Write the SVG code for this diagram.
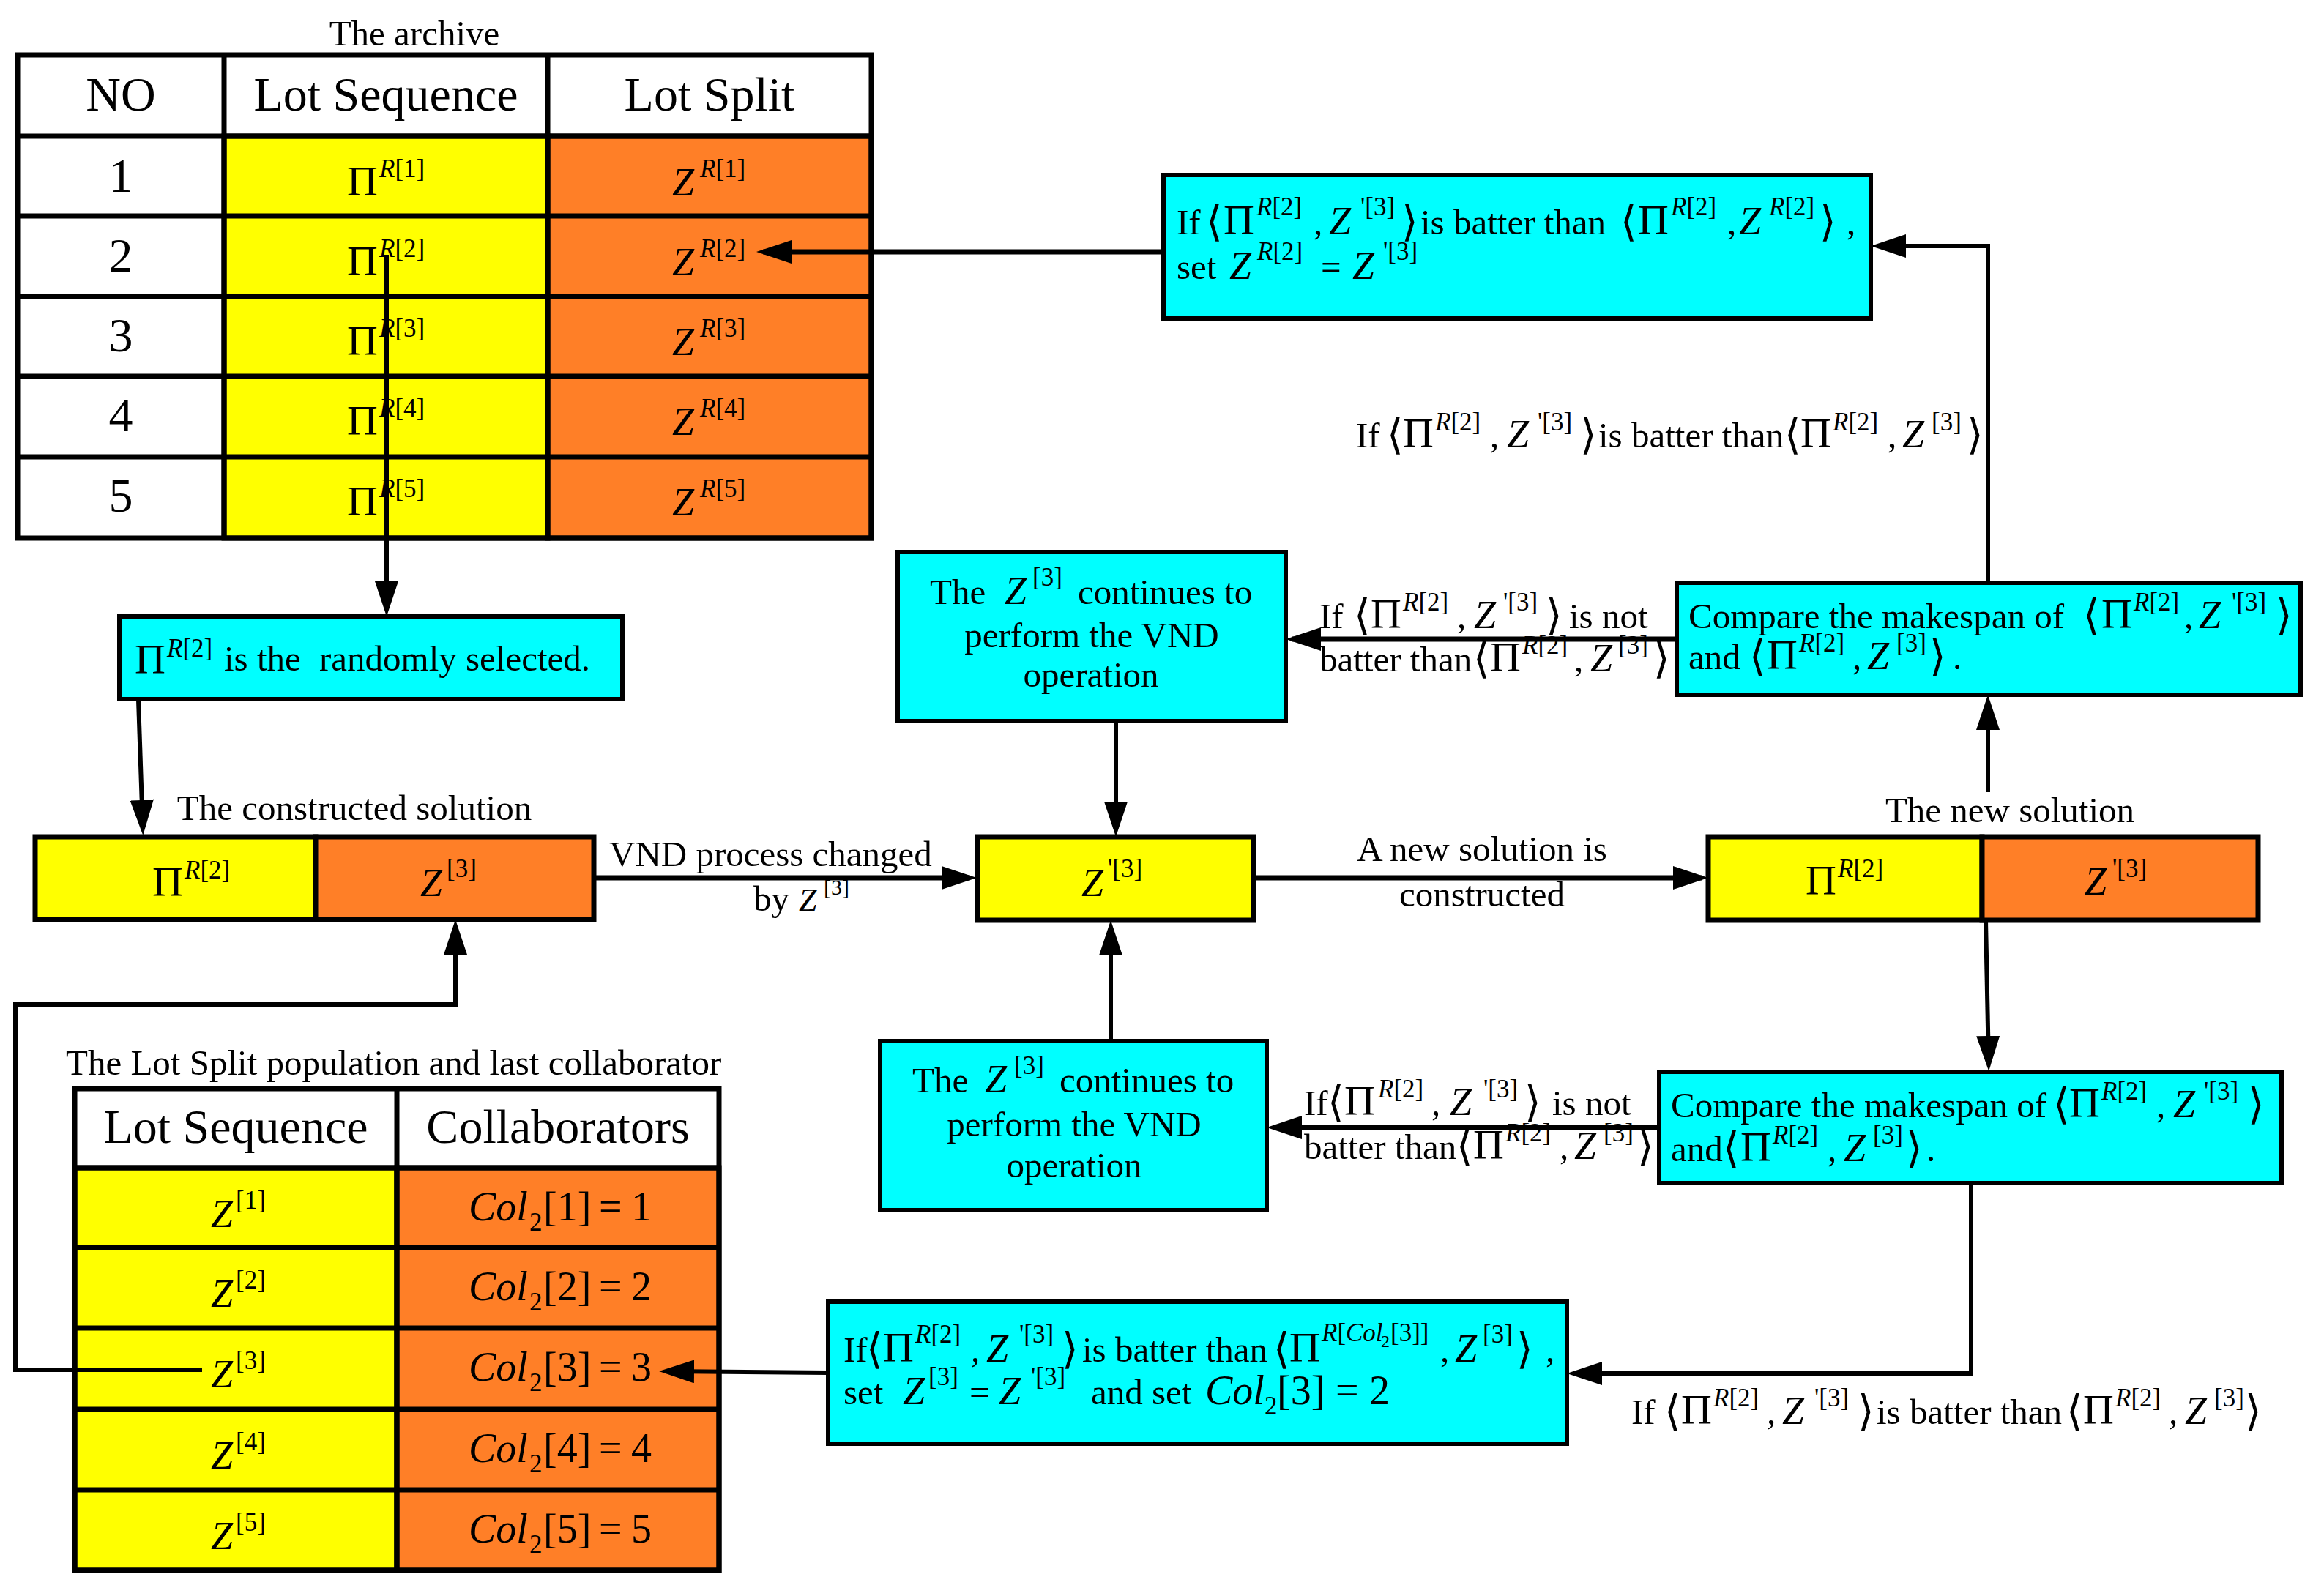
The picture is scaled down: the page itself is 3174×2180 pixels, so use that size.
<svg xmlns="http://www.w3.org/2000/svg" width="3174" height="2180" viewBox="0 0 3174 2180">
<style>
text { font-family: 'Liberation Serif','DejaVu Serif',serif; fill:#000; }
.t { font-size:49px; }
.h { font-size:66px; }
.c { text-anchor:middle; }
.i { font-style:italic; }
.s { font-size:35px; }
.ss { font-size:24px; }
.p { font-size:58px; }
.z { font-size:54px; font-style:italic; }
.b { font-family:'DejaVu Sans','DejaVu Serif',sans-serif; font-size:58px; }
.cz { font-size:56px; }
.ln { stroke:#000; stroke-width:6; fill:none; }
.lh { stroke-width:7; }
.box { fill:#00ffff; stroke:#000; stroke-width:6; }
.yl { fill:#ffff00; stroke:#000; stroke-width:7; }
.or { fill:#ff7f27; stroke:#000; stroke-width:7; }
.wh { fill:#ffffff; }
.grid { stroke:#000; stroke-width:7; fill:none; }
</style>
<defs>
<marker id="ah" markerUnits="userSpaceOnUse" markerWidth="48" markerHeight="32" refX="39" refY="16" orient="auto">
<path d="M0,0 L48,16 L0,32 Z" fill="#000"/>
</marker>
</defs>
<rect width="3174" height="2180" fill="#fff"/>

<!-- Archive table -->
<g id="archive">
<text class="t c" x="566" y="62">The archive</text>
<rect class="wh" x="24" y="75" width="282" height="660"/>
<rect class="wh" x="306" y="75" width="884" height="111"/>
<rect class="yl" x="306" y="186" width="442" height="549" stroke="none"/>
<rect class="or" x="748" y="186" width="442" height="549" stroke="none"/>
<path class="grid" d="M24,75 H1190 V735 H24 Z M24,186 H1190 M24,295 H1190 M24,405 H1190 M24,514 H1190 M24,624 H1190 M306,75 V735 M748,75 V735"/>
<text class="h c" x="165" y="151">NO</text>
<text class="h c" x="527" y="151">Lot Sequence</text>
<text class="h c" x="969" y="151">Lot Split</text>
<text class="h c" x="165" y="262">1</text>
<text class="h c" x="165" y="371">2</text>
<text class="h c" x="165" y="480">3</text>
<text class="h c" x="165" y="589">4</text>
<text class="h c" x="165" y="699">5</text>
<text class="t"><tspan class="p" x="474" y="267">Π</tspan><tspan class="s" x="518" y="242"><tspan class="i">R</tspan>[1]</tspan></text>
<text class="t"><tspan class="p" x="474" y="376">Π</tspan><tspan class="s" x="518" y="351"><tspan class="i">R</tspan>[2]</tspan></text>
<text class="t"><tspan class="p" x="474" y="485">Π</tspan><tspan class="s" x="518" y="460"><tspan class="i">R</tspan>[3]</tspan></text>
<text class="t"><tspan class="p" x="474" y="594">Π</tspan><tspan class="s" x="518" y="569"><tspan class="i">R</tspan>[4]</tspan></text>
<text class="t"><tspan class="p" x="474" y="704">Π</tspan><tspan class="s" x="518" y="679"><tspan class="i">R</tspan>[5]</tspan></text>
<text class="t"><tspan class="z" x="918" y="267">Z</tspan><tspan class="s" x="956" y="242"><tspan class="i">R</tspan>[1]</tspan></text>
<text class="t"><tspan class="z" x="918" y="376">Z</tspan><tspan class="s" x="956" y="351"><tspan class="i">R</tspan>[2]</tspan></text>
<text class="t"><tspan class="z" x="918" y="485">Z</tspan><tspan class="s" x="956" y="460"><tspan class="i">R</tspan>[3]</tspan></text>
<text class="t"><tspan class="z" x="918" y="594">Z</tspan><tspan class="s" x="956" y="569"><tspan class="i">R</tspan>[4]</tspan></text>
<text class="t"><tspan class="z" x="918" y="704">Z</tspan><tspan class="s" x="956" y="679"><tspan class="i">R</tspan>[5]</tspan></text>
</g>

<!-- Randomly selected box -->
<g id="selected">
<rect class="box" x="163" y="842" width="687" height="113"/>
<text class="t"><tspan class="p" x="184" y="920">Π</tspan><tspan class="s" x="228" y="897"><tspan class="i">R</tspan>[2]</tspan><tspan x="306" y="916">is the</tspan><tspan x="436" y="916">randomly selected.</tspan></text>
</g>

<!-- Constructed solution -->
<g id="constructed">
<text class="t c" x="484" y="1120">The constructed solution</text>
<rect class="yl" x="48" y="1143" width="383" height="113"/>
<rect class="or" x="431" y="1143" width="380" height="113"/>
<text class="t"><tspan class="p" x="208" y="1224">Π</tspan><tspan class="s" x="252" y="1200"><tspan class="i">R</tspan>[2]</tspan></text>
<text class="t"><tspan class="z" x="574" y="1224">Z</tspan><tspan class="s" x="610" y="1198">[3]</tspan></text>
</g>

<!-- VND box 1 -->
<g id="vnd1">
<rect class="box" x="1226" y="754" width="530" height="231"/>
<text class="t"><tspan x="1270" y="825">The</tspan><tspan class="z" x="1372" y="825">Z</tspan><tspan class="s" x="1410" y="800">[3]</tspan><tspan x="1472" y="825">continues to</tspan></text>
<text class="t c" x="1491" y="884">perform the VND</text>
<text class="t c" x="1490" y="938">operation</text>
</g>

<!-- Z' box -->
<g id="zprime">
<rect class="yl" x="1335" y="1143" width="377" height="114"/>
<text class="t"><tspan class="z" x="1477" y="1224">Z</tspan><tspan class="s" x="1513" y="1198">'[3]</tspan></text>
</g>

<!-- New solution -->
<g id="newsolution">
<text class="t c" x="2745" y="1123">The new solution</text>
<rect class="yl" x="2333" y="1143" width="374" height="114"/>
<rect class="or" x="2707" y="1143" width="377" height="114"/>
<text class="t"><tspan class="p" x="2466" y="1222">Π</tspan><tspan class="s" x="2510" y="1198"><tspan class="i">R</tspan>[2]</tspan></text>
<text class="t"><tspan class="z" x="2847" y="1222">Z</tspan><tspan class="s" x="2885" y="1198">'[3]</tspan></text>
</g>

<!-- Top set box -->
<g id="topset">
<rect class="box" x="1589" y="239" width="966" height="196"/>
<text class="t"><tspan x="1607" y="320">If</tspan><tspan class="b" x="1647" y="322">⟨</tspan><tspan class="p" x="1671" y="320">Π</tspan><tspan class="s" x="1716" y="294"><tspan class="i">R</tspan>[2]</tspan><tspan x="1794" y="320">,</tspan><tspan class="z" x="1815" y="320">Z</tspan><tspan class="s" x="1858" y="294">'[3]</tspan><tspan class="b" x="1914" y="322">⟩</tspan><tspan x="1940" y="320">is batter than</tspan><tspan class="b" x="2213" y="322">⟨</tspan><tspan class="p" x="2237" y="320">Π</tspan><tspan class="s" x="2282" y="294"><tspan class="i">R</tspan>[2]</tspan><tspan x="2359" y="320">,</tspan><tspan class="z" x="2375" y="320">Z</tspan><tspan class="s" x="2416" y="294"><tspan class="i">R</tspan>[2]</tspan><tspan class="b" x="2485" y="322">⟩</tspan><tspan x="2522" y="320">,</tspan></text>
<text class="t"><tspan x="1607" y="381">set</tspan><tspan class="z" x="1679" y="381">Z</tspan><tspan class="s" x="1717" y="355"><tspan class="i">R</tspan>[2]</tspan><tspan x="1804" y="381">=</tspan><tspan class="z" x="1847" y="381">Z</tspan><tspan class="s" x="1889" y="355">'[3]</tspan></text>
</g>

<!-- Top compare box -->
<g id="compare1">
<rect class="box" x="2290" y="796" width="852" height="153"/>
<text class="t"><tspan x="2306" y="858">Compare the makespan of</tspan><tspan class="b" x="2845" y="860">⟨</tspan><tspan class="p" x="2870" y="858">Π</tspan><tspan class="s" x="2914" y="834"><tspan class="i">R</tspan>[2]</tspan><tspan x="2983" y="858">,</tspan><tspan class="z" x="3003" y="858">Z</tspan><tspan class="s" x="3048" y="834">'[3]</tspan><tspan class="b" x="3108" y="860">⟩</tspan></text>
<text class="t"><tspan x="2306" y="914">and</tspan><tspan class="b" x="2389" y="916">⟨</tspan><tspan class="p" x="2413" y="914">Π</tspan><tspan class="s" x="2457" y="890"><tspan class="i">R</tspan>[2]</tspan><tspan x="2530" y="914">,</tspan><tspan class="z" x="2550" y="914">Z</tspan><tspan class="s" x="2590" y="890">[3]</tspan><tspan class="b" x="2635" y="916">⟩</tspan><tspan x="2667" y="914">.</tspan></text>
</g>

<!-- Bottom compare box -->
<g id="compare2">
<rect class="box" x="2266" y="1464" width="850" height="152"/>
<text class="t"><tspan x="2282" y="1526">Compare the makespan of</tspan><tspan class="b" x="2804" y="1528">⟨</tspan><tspan class="p" x="2826" y="1526">Π</tspan><tspan class="s" x="2870" y="1502"><tspan class="i">R</tspan>[2]</tspan><tspan x="2945" y="1526">,</tspan><tspan class="z" x="2968" y="1526">Z</tspan><tspan class="s" x="3010" y="1502">'[3]</tspan><tspan class="b" x="3070" y="1528">⟩</tspan></text>
<text class="t"><tspan x="2282" y="1586">and</tspan><tspan class="b" x="2353" y="1588">⟨</tspan><tspan class="p" x="2377" y="1586">Π</tspan><tspan class="s" x="2421" y="1562"><tspan class="i">R</tspan>[2]</tspan><tspan x="2496" y="1586">,</tspan><tspan class="z" x="2518" y="1586">Z</tspan><tspan class="s" x="2558" y="1562">[3]</tspan><tspan class="b" x="2603" y="1588">⟩</tspan><tspan x="2631" y="1586">.</tspan></text>
</g>

<!-- VND box 2 -->
<g id="vnd2">
<rect class="box" x="1202" y="1422" width="528" height="231"/>
<text class="t"><tspan x="1246" y="1492">The</tspan><tspan class="z" x="1345" y="1492">Z</tspan><tspan class="s" x="1385" y="1467">[3]</tspan><tspan x="1447" y="1492">continues to</tspan></text>
<text class="t c" x="1467" y="1552">perform the VND</text>
<text class="t c" x="1467" y="1608">operation</text>
</g>

<!-- Bottom set box -->
<g id="bottomset">
<rect class="box" x="1131" y="1778" width="1009" height="194"/>
<text class="t"><tspan x="1152" y="1860">If</tspan><tspan class="b" x="1183" y="1862">⟨</tspan><tspan class="p" x="1206" y="1860">Π</tspan><tspan class="s" x="1250" y="1834"><tspan class="i">R</tspan>[2]</tspan><tspan x="1326" y="1860">,</tspan><tspan class="z" x="1347" y="1860">Z</tspan><tspan class="s" x="1392" y="1834">'[3]</tspan><tspan class="b" x="1450" y="1862">⟩</tspan><tspan x="1478" y="1860">is batter than</tspan><tspan class="b" x="1739" y="1862">⟨</tspan><tspan class="p" x="1761" y="1860">Π</tspan><tspan class="s" x="1805" y="1832"><tspan class="i">R</tspan>[</tspan><tspan class="s i" x="1838" y="1832">Col</tspan><tspan class="ss" x="1886" y="1840">2</tspan><tspan class="s" x="1899" y="1832">[3]]</tspan><tspan x="1967" y="1860">,</tspan><tspan class="z" x="1987" y="1860">Z</tspan><tspan class="s" x="2025" y="1834">[3]</tspan><tspan class="b" x="2071" y="1862">⟩</tspan><tspan x="2111" y="1860">,</tspan></text>
<text class="t"><tspan x="1152" y="1918">set</tspan><tspan class="z" x="1233" y="1918">Z</tspan><tspan class="s" x="1268" y="1892">[3]</tspan><tspan x="1324" y="1918">=</tspan><tspan class="z" x="1364" y="1918">Z</tspan><tspan class="s" x="1408" y="1892">'[3]</tspan><tspan x="1490" y="1918">and set</tspan><tspan class="cz i" x="1646" y="1918">Col</tspan><tspan class="s" x="1727" y="1932">2</tspan><tspan class="cz" x="1744" y="1918">[3]</tspan><tspan class="cz" x="1824" y="1918">=</tspan><tspan class="cz" x="1870" y="1918">2</tspan></text>
</g>

<!-- Lot split population table -->
<g id="population">
<text class="t" x="90" y="1468">The Lot Split population and last collaborator</text>
<rect class="wh" x="102" y="1487" width="880" height="108"/>
<rect class="yl" x="102" y="1595" width="440" height="550" stroke="none"/>
<rect class="or" x="542" y="1595" width="440" height="550" stroke="none"/>
<path class="grid" d="M102,1487 H982 V2145 H102 Z M102,1595 H982 M102,1704 H982 M102,1814 H982 M102,1925 H982 M102,2035 H982 M542,1487 V2145"/>
<text class="h c" x="322" y="1561">Lot Sequence</text>
<text class="h c" x="762" y="1561">Collaborators</text>
<text class="t"><tspan class="z" x="288" y="1676">Z</tspan><tspan class="s" x="322" y="1651">[1]</tspan></text>
<text class="t"><tspan class="z" x="288" y="1785">Z</tspan><tspan class="s" x="322" y="1760">[2]</tspan></text>
<text class="t"><tspan class="z" x="288" y="1895">Z</tspan><tspan class="s" x="322" y="1870">[3]</tspan></text>
<text class="t"><tspan class="z" x="288" y="2006">Z</tspan><tspan class="s" x="322" y="1981">[4]</tspan></text>
<text class="t"><tspan class="z" x="288" y="2116">Z</tspan><tspan class="s" x="322" y="2091">[5]</tspan></text>
<text class="t"><tspan class="cz i" x="640" y="1667">Col</tspan><tspan class="s" x="723" y="1681">2</tspan><tspan class="cz" x="742" y="1667">[1]</tspan><tspan class="cz" x="818" y="1667">=</tspan><tspan class="cz" x="862" y="1667">1</tspan></text>
<text class="t"><tspan class="cz i" x="640" y="1776">Col</tspan><tspan class="s" x="723" y="1790">2</tspan><tspan class="cz" x="742" y="1776">[2]</tspan><tspan class="cz" x="818" y="1776">=</tspan><tspan class="cz" x="862" y="1776">2</tspan></text>
<text class="t"><tspan class="cz i" x="640" y="1886">Col</tspan><tspan class="s" x="723" y="1900">2</tspan><tspan class="cz" x="742" y="1886">[3]</tspan><tspan class="cz" x="818" y="1886">=</tspan><tspan class="cz" x="862" y="1886">3</tspan></text>
<text class="t"><tspan class="cz i" x="640" y="1997">Col</tspan><tspan class="s" x="723" y="2011">2</tspan><tspan class="cz" x="742" y="1997">[4]</tspan><tspan class="cz" x="818" y="1997">=</tspan><tspan class="cz" x="862" y="1997">4</tspan></text>
<text class="t"><tspan class="cz i" x="640" y="2107">Col</tspan><tspan class="s" x="723" y="2121">2</tspan><tspan class="cz" x="742" y="2107">[5]</tspan><tspan class="cz" x="818" y="2107">=</tspan><tspan class="cz" x="862" y="2107">5</tspan></text>
</g>

<!-- Connectors -->
<g id="connectors">
<path class="ln" d="M528,348 V833" marker-end="url(#ah)"/>
<path class="ln lh" d="M1589,344 H1042" marker-end="url(#ah)"/>
<path class="ln" d="M189,956 L195,1132" marker-end="url(#ah)"/>
<path class="ln lh" d="M811,1199 H1325" marker-end="url(#ah)"/>
<path class="ln" d="M1524,985 V1134" marker-end="url(#ah)"/>
<path class="ln lh" d="M1712,1199 H2324" marker-end="url(#ah)"/>
<path class="ln" d="M2715,1082 V958" marker-end="url(#ah)"/>
<path class="ln" d="M2715,796 V336 H2564" marker-end="url(#ah)"/>
<path class="ln lh" d="M2290,873 H1765" marker-end="url(#ah)"/>
<path class="ln" d="M2712,1257 L2716,1454" marker-end="url(#ah)"/>
<path class="ln lh" d="M2266,1540 H1739" marker-end="url(#ah)"/>
<path class="ln" d="M1517,1422 V1266" marker-end="url(#ah)"/>
<path class="ln" d="M2692,1616 V1876 H2149" marker-end="url(#ah)"/>
<path class="ln" d="M1131,1875 L909,1873" marker-end="url(#ah)"/>
<path class="ln" d="M276,1871 H21 V1372 H622 V1265" marker-end="url(#ah)"/>
</g>

<!-- Connector labels -->
<g id="labels">
<text class="t" x="832" y="1183">VND process changed</text>
<text class="t"><tspan x="1029" y="1244">by</tspan><tspan class="i" style="font-size:44px" x="1091" y="1244">Z</tspan><tspan class="s" style="font-size:30px" x="1125" y="1222">[3]</tspan></text>
<text class="t c" x="2024" y="1176">A new solution is</text>
<text class="t c" x="2024" y="1238">constructed</text>
<text class="t"><tspan x="1852" y="611">If</tspan><tspan class="b" x="1894" y="613">⟨</tspan><tspan class="p" x="1916" y="611">Π</tspan><tspan class="s" x="1960" y="588"><tspan class="i">R</tspan>[2]</tspan><tspan x="2035" y="611">,</tspan><tspan class="z" x="2058" y="611">Z</tspan><tspan class="s" x="2100" y="588">'[3]</tspan><tspan class="b" x="2158" y="613">⟩</tspan><tspan x="2183" y="611">is batter than</tspan><tspan class="b" x="2437" y="613">⟨</tspan><tspan class="p" x="2459" y="611">Π</tspan><tspan class="s" x="2503" y="588"><tspan class="i">R</tspan>[2]</tspan><tspan x="2578" y="611">,</tspan><tspan class="z" x="2598" y="611">Z</tspan><tspan class="s" x="2638" y="588">[3]</tspan><tspan class="b" x="2686" y="613">⟩</tspan></text>
<text class="t"><tspan x="1802" y="858">If</tspan><tspan class="b" x="1849" y="860">⟨</tspan><tspan class="p" x="1872" y="858">Π</tspan><tspan class="s" x="1916" y="834"><tspan class="i">R</tspan>[2]</tspan><tspan x="1990" y="858">,</tspan><tspan class="z" x="2013" y="858">Z</tspan><tspan class="s" x="2053" y="834">'[3]</tspan><tspan class="b" x="2111" y="860">⟩</tspan><tspan x="2143" y="858">is not</tspan></text>
<text class="t"><tspan x="1802" y="917">batter than</tspan><tspan class="b" x="2012" y="919">⟨</tspan><tspan class="p" x="2035" y="917">Π</tspan><tspan class="s" x="2079" y="893"><tspan class="i">R</tspan>[2]</tspan><tspan x="2150" y="917">,</tspan><tspan class="z" x="2172" y="917">Z</tspan><tspan class="s" x="2210" y="893">[3]</tspan><tspan class="b" x="2258" y="919">⟩</tspan></text>
<text class="t"><tspan x="1781" y="1523">If</tspan><tspan class="b" x="1813" y="1525">⟨</tspan><tspan class="p" x="1836" y="1523">Π</tspan><tspan class="s" x="1882" y="1499"><tspan class="i">R</tspan>[2]</tspan><tspan x="1955" y="1523">,</tspan><tspan class="z" x="1980" y="1523">Z</tspan><tspan class="s" x="2026" y="1499">'[3]</tspan><tspan class="b" x="2082" y="1525">⟩</tspan><tspan x="2120" y="1523">is not</tspan></text>
<text class="t"><tspan x="1781" y="1583">batter than</tspan><tspan class="b" x="1989" y="1585">⟨</tspan><tspan class="p" x="2012" y="1583">Π</tspan><tspan class="s" x="2056" y="1559"><tspan class="i">R</tspan>[2]</tspan><tspan x="2130" y="1583">,</tspan><tspan class="z" x="2150" y="1583">Z</tspan><tspan class="s" x="2190" y="1559">[3]</tspan><tspan class="b" x="2236" y="1585">⟩</tspan></text>
<text class="t"><tspan x="2228" y="1945">If</tspan><tspan class="b" x="2273" y="1947">⟨</tspan><tspan class="p" x="2296" y="1945">Π</tspan><tspan class="s" x="2340" y="1921"><tspan class="i">R</tspan>[2]</tspan><tspan x="2413" y="1945">,</tspan><tspan class="z" x="2434" y="1945">Z</tspan><tspan class="s" x="2478" y="1921">'[3]</tspan><tspan class="b" x="2537" y="1947">⟩</tspan><tspan x="2563" y="1945">is batter than</tspan><tspan class="b" x="2822" y="1947">⟨</tspan><tspan class="p" x="2845" y="1945">Π</tspan><tspan class="s" x="2889" y="1921"><tspan class="i">R</tspan>[2]</tspan><tspan x="2962" y="1945">,</tspan><tspan class="z" x="2984" y="1945">Z</tspan><tspan class="s" x="3024" y="1921">[3]</tspan><tspan class="b" x="3066" y="1947">⟩</tspan></text>
</g>
</svg>
